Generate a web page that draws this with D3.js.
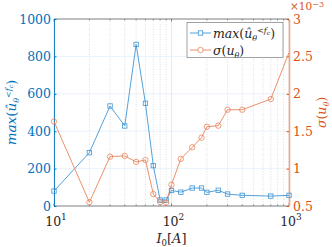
<!DOCTYPE html>
<html>
<head>
<meta charset="utf-8">
<script src="https://cdn.jsdelivr.net/npm/d3@7"></script>
<style>
    body { margin: 0; background: #fff; }
    svg, svg text { font-family: "DejaVu Serif", serif; }
    svg { display: block; }
</style>
</head>
<body>
<div id="chart"></div>
<script>
// Current vs. peak amplitude (left axis) and std deviation (right axis, x1e-3)

const currents = [10, 20, 30, 40, 50, 60, 70, 80, 90, 100, 120, 150, 180, 200, 250, 300, 400, 700, 1000];
const maxAmp = [80, 285, 535, 428, 864, 549, 216, 32, 32, 83, 74, 96, 96, 73, 84, 64, 57, 53, 57];
const sigmaU = [1.63, 0.55, 1.16, 1.17, 1.09, 1.115, 0.66, 0.553, 0.544, 0.785, 1.13, 1.285, 1.413, 1.56, 1.574, 1.787, 1.787, 1.93, 2.55];

const leftTicks = [0, 200, 400, 600, 800, 1000];
const rightTicks = [0.5, 1, 1.5, 2, 2.5, 3];
const xMajor = [10, 100, 1000];
const xMajorExp = ["1", "2", "3"];
const xMinor = [20, 30, 40, 50, 60, 70, 80, 90, 200, 300, 400, 500, 600, 700, 800, 900];

const BLUE = "#0072BD";
const ORANGE = "#D95319";
const FONT = "'DejaVu Serif', serif";
const FS = 12.5;

const CONFIG = {
    width: 332,
    height: 247,
    margin: { top: 19, right: 43, bottom: 41, left: 54 },
    get chartWidth() { return this.width - this.margin.left - this.margin.right; },
    get chartHeight() { return this.height - this.margin.top - this.margin.bottom; }
};

const { width, height, margin, chartWidth, chartHeight } = CONFIG;

const svg = d3.select("#chart").append("svg")
    .attr("width", width)
    .attr("height", height)
    .attr("font-family", FONT);

const g = svg.append("g")
    .attr("transform", `translate(${margin.left},${margin.top})`);

const x = d3.scaleLog().domain([10, 1000]).range([0, chartWidth]);
const yL = d3.scaleLinear().domain([0, 1000]).range([chartHeight, 0]);
const yR = d3.scaleLinear().domain([0.5, 3]).range([chartHeight, 0]);

// grid
g.append("g").selectAll("line").data(xMinor).join("line")
    .attr("x1", d => x(d)).attr("x2", d => x(d))
    .attr("y1", 0).attr("y2", chartHeight)
    .attr("stroke", "#c8c8c8").attr("stroke-width", 0.6)
    .attr("stroke-dasharray", "1,1.5");

g.append("g").selectAll("line").data(xMajor).join("line")
    .attr("x1", d => x(d)).attr("x2", d => x(d))
    .attr("y1", 0).attr("y2", chartHeight)
    .attr("stroke", "#e2e2e2").attr("stroke-width", 0.8);

g.append("g").selectAll("line").data(leftTicks).join("line")
    .attr("x1", 0).attr("x2", chartWidth)
    .attr("y1", d => yL(d)).attr("y2", d => yL(d))
    .attr("stroke", "#e3eef7").attr("stroke-width", 0.8);

// box top/bottom
g.append("line").attr("x1", 0).attr("x2", chartWidth).attr("y1", 0).attr("y2", 0)
    .attr("stroke", "#6b6b6b").attr("stroke-width", 0.8);
g.append("line").attr("x1", 0).attr("x2", chartWidth).attr("y1", chartHeight).attr("y2", chartHeight)
    .attr("stroke", "#6b6b6b").attr("stroke-width", 0.8);

// x ticks (inward, bottom and top)
[chartHeight, 0].forEach((y0, i) => {
    const dir = i === 0 ? -1 : 1;
    g.append("g").selectAll("line").data(xMajor).join("line")
        .attr("x1", d => x(d)).attr("x2", d => x(d))
        .attr("y1", y0).attr("y2", y0 + dir * 2.5)
        .attr("stroke", "#555").attr("stroke-width", 0.7);
    g.append("g").selectAll("line").data(xMinor).join("line")
        .attr("x1", d => x(d)).attr("x2", d => x(d))
        .attr("y1", y0).attr("y2", y0 + dir * 1.5)
        .attr("stroke", "#555").attr("stroke-width", 0.6);
});

// x tick labels 10^n
const xLab = g.append("g").selectAll("text").data(xMajor).join("text")
    .attr("x", (d, i) => x(d) + 2)
    .attr("y", chartHeight + 20)
    .attr("text-anchor", "middle")
    .attr("font-size", FS)
    .attr("fill", "#262626");
xLab.append("tspan").text("10");
xLab.append("tspan").attr("dy", -6).attr("font-size", 9).text((d, i) => xMajorExp[i]);

// left axis
const leftAxis = g.append("g")
    .call(d3.axisLeft(yL).tickValues(leftTicks).tickFormat(d3.format("d"))
        .tickSizeInner(-2.5).tickSizeOuter(0).tickPadding(3))
    .attr("font-family", FONT);
leftAxis.select(".domain").attr("stroke", BLUE).attr("stroke-width", 0.9);
leftAxis.selectAll(".tick line").attr("stroke", BLUE);
leftAxis.selectAll(".tick text").attr("fill", BLUE).attr("font-size", FS);

// right axis
const rightAxis = g.append("g")
    .attr("transform", `translate(${chartWidth},0)`)
    .call(d3.axisRight(yR).tickValues(rightTicks).tickFormat(d => String(d))
        .tickSizeInner(-2.5).tickSizeOuter(0).tickPadding(4))
    .attr("font-family", FONT);
rightAxis.select(".domain").attr("stroke", "#eaa98c").attr("stroke-width", 1.6);
rightAxis.selectAll(".tick line").attr("stroke", ORANGE);
rightAxis.selectAll(".tick text").attr("fill", ORANGE).attr("font-size", FS);

// exponent label x10^-3
const expLab = svg.append("text")
    .attr("x", margin.left + chartWidth + 1)
    .attr("y", 9.5)
    .attr("font-size", 10.5)
    .attr("fill", ORANGE);
expLab.append("tspan").text("\u00d710");
expLab.append("tspan").attr("dy", -3).attr("font-size", 8).text("\u22123");

// series lines
const blueLine = d3.line().x((d, i) => x(currents[i])).y(d => yL(d));
const orangeLine = d3.line().x((d, i) => x(currents[i])).y(d => yR(d));

g.append("path").datum(maxAmp)
    .attr("d", blueLine)
    .attr("fill", "none").attr("stroke", "#3f96d6").attr("stroke-width", 0.9);

g.append("path").datum(sigmaU)
    .attr("d", orangeLine)
    .attr("fill", "none").attr("stroke", "#e8845a").attr("stroke-width", 0.9);

g.append("g").selectAll("rect").data(maxAmp).join("rect")
    .attr("x", (d, i) => x(currents[i]) - 2.2)
    .attr("y", d => yL(d) - 2.2)
    .attr("width", 4.4).attr("height", 4.4)
    .attr("fill", "none").attr("stroke", "#3f96d6").attr("stroke-width", 0.8);

g.append("g").selectAll("circle").data(sigmaU.slice(0, -1)).join("circle")
    .attr("cx", (d, i) => x(currents[i]))
    .attr("cy", d => yR(d))
    .attr("r", 2.7)
    .attr("fill", "none").attr("stroke", "#e8845a").attr("stroke-width", 0.8);

// legend
const leg = svg.append("g");
leg.append("rect")
    .attr("x", 187).attr("y", 22.5).attr("width", 96).attr("height", 35)
    .attr("fill", "#fff").attr("stroke", "#8a8a8a").attr("stroke-width", 0.8);

const legRows = [
    { y: 33, color: "#3f96d6", marker: "square" },
    { y: 50, color: "#e8845a", marker: "circle" }
];
legRows.forEach(r => {
    leg.append("line").attr("x1", 190).attr("x2", 211).attr("y1", r.y).attr("y2", r.y)
        .attr("stroke", r.color).attr("stroke-width", 0.9);
    if (r.marker === "square") {
        leg.append("rect").attr("x", 198.3).attr("y", r.y - 2.2).attr("width", 4.4).attr("height", 4.4)
            .attr("fill", "#fff").attr("stroke", r.color).attr("stroke-width", 0.8);
    } else {
        leg.append("circle").attr("cx", 200.5).attr("cy", r.y).attr("r", 2.7)
            .attr("fill", "#fff").attr("stroke", r.color).attr("stroke-width", 0.8);
    }
});

function maxLabel(sel) {
    sel.append("tspan").attr("font-style", "italic").text("max");
    sel.append("tspan").text("(");
    sel.append("tspan").attr("font-style", "italic").text("\u00fb");
    sel.append("tspan").attr("font-style", "italic").attr("font-size", 8).attr("dy", 3).text("\u03b8");
    sel.append("tspan").attr("font-size", 8).attr("dy", -8).text("<");
    sel.append("tspan").attr("font-style", "italic").attr("font-size", 8).text("f");
    sel.append("tspan").attr("font-style", "italic").attr("font-size", 6).attr("dy", 2).text("c");
    sel.append("tspan").attr("dy", 3).text(")");
}
function sigmaLabel(sel) {
    sel.append("tspan").attr("font-style", "italic").text("\u03c3");
    sel.append("tspan").text("(");
    sel.append("tspan").attr("font-style", "italic").text("u");
    sel.append("tspan").attr("font-style", "italic").attr("font-size", 8).attr("dy", 3).text("\u03b8");
    sel.append("tspan").attr("dy", -3).text(")");
}

leg.append("text").attr("x", 213).attr("y", 37.5).attr("font-size", FS).attr("fill", "#262626").call(maxLabel);
leg.append("text").attr("x", 213).attr("y", 54.5).attr("font-size", FS).attr("fill", "#262626").call(sigmaLabel);

// axis labels
const xTitle = svg.append("text")
    .attr("x", margin.left + chartWidth / 2)
    .attr("y", 243)
    .attr("text-anchor", "middle")
    .attr("font-size", 13)
    .attr("fill", "#262626");
xTitle.append("tspan").attr("font-style", "italic").text("I");
xTitle.append("tspan").attr("font-size", 8.5).attr("dy", 3).text("0");
xTitle.append("tspan").attr("dy", -3).text("[");
xTitle.append("tspan").attr("font-style", "italic").text("A");
xTitle.append("tspan").text("]");

svg.append("text")
    .attr("transform", `translate(16,${margin.top + chartHeight / 2}) rotate(-90)`)
    .attr("text-anchor", "middle")
    .attr("font-size", 13.5)
    .attr("fill", BLUE)
    .call(maxLabel);

svg.append("text")
    .attr("transform", `translate(326,${margin.top + chartHeight / 2}) rotate(-90)`)
    .attr("text-anchor", "middle")
    .attr("font-size", FS)
    .attr("fill", ORANGE)
    .call(sigmaLabel);
</script>
</body>
</html>
